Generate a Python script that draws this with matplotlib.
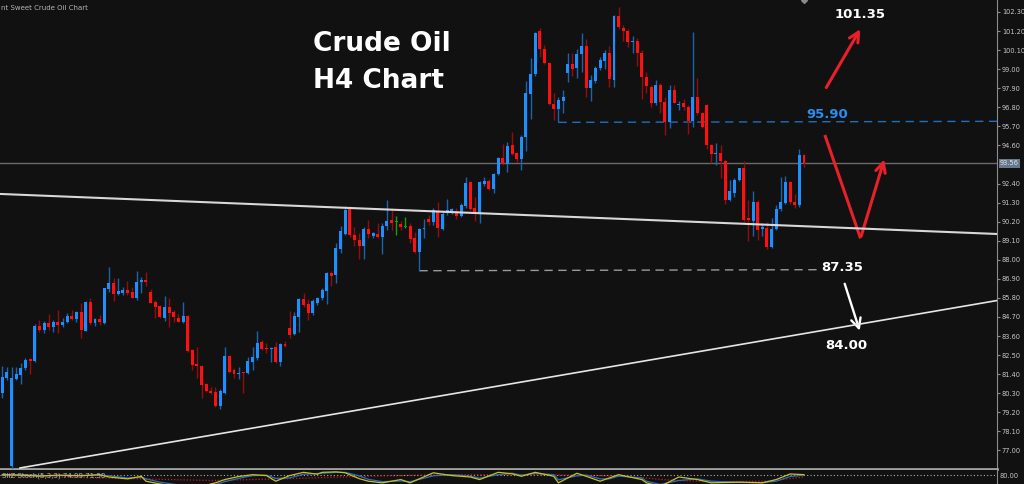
import matplotlib.pyplot as plt
import numpy as np

# H4 bars, oldest first
opens = [80.30, 81.16, 76.10, 81.12, 81.35, 81.74, 82.26, 82.16, 84.18, 83.95,
         84.37, 84.14, 84.43, 84.24, 84.43, 84.76, 84.58, 84.97, 83.91, 85.58,
         84.33, 84.56, 84.37, 86.30, 86.64, 86.03, 86.10, 86.26, 86.16, 85.82,
         86.74, 86.83, 86.16, 85.58, 85.33, 84.66, 85.30, 84.99, 84.66, 84.43,
         84.78, 82.80, 81.97, 81.89, 80.83, 80.45, 80.39, 79.59, 80.33, 82.47,
         81.64, 81.43, 81.49, 81.45, 82.12, 82.31, 83.24, 82.93, 82.87, 82.95,
         82.08, 83.16, 84.05, 83.70, 84.72, 85.74, 85.45, 84.91, 85.53, 85.78,
         86.22, 87.22, 87.12, 88.60, 89.49, 90.97, 89.43, 89.14, 88.80, 89.76,
         89.39, 89.49, 89.30, 89.95, 90.30, 90.19, 90.07, 89.90, 89.95, 89.26,
         88.45, 89.76, 90.37, 90.18, 90.82, 89.76, 90.72, 90.76, 90.84, 90.53,
         91.10, 92.51, 90.97, 90.72, 92.37, 92.57, 92.09, 92.95, 93.89, 93.53,
         94.63, 94.14, 93.82, 95.11, 97.57, 98.72, 101.20, 100.16, 99.37, 96.99,
         96.68, 97.18, 98.76, 99.28, 99.05, 99.86, 100.34, 97.89, 98.34, 99.05,
         99.49, 99.95, 98.37, 102.07, 101.37, 101.20, 100.59, 100.64, 99.95, 98.57,
         97.95, 97.07, 98.09, 97.12, 95.97, 97.80, 96.91, 97.03, 96.80, 96.03,
         97.37, 96.45, 96.93, 94.63, 94.11, 94.18, 93.72, 91.45, 91.84, 92.61,
         93.28, 90.39, 90.26, 91.36, 89.76, 89.84, 88.72, 89.76, 90.91, 91.26,
         92.51, 91.36, 91.18, 94.05]
highs = [81.87, 81.83, 81.83, 81.80, 82.03, 82.31, 82.31, 84.30, 84.53, 84.49,
         84.87, 84.53, 85.10, 84.62, 84.91, 85.10, 85.05, 85.49, 85.64, 85.78,
         84.62, 84.82, 86.39, 87.60, 86.93, 86.93, 86.41, 86.80, 86.41, 87.37,
         86.99, 87.31, 86.30, 85.68, 85.39, 85.91, 85.78, 85.10, 84.87, 85.55,
         84.82, 82.83, 82.95, 81.93, 80.91, 80.64, 80.64, 80.53, 82.95, 82.51,
         81.74, 81.83, 81.52, 82.41, 82.99, 83.89, 83.37, 83.18, 82.99, 83.24,
         83.18, 83.31, 85.05, 85.01, 85.78, 86.07, 85.72, 85.72, 85.87, 86.35,
         87.31, 87.37, 88.95, 89.95, 91.10, 91.10, 89.91, 89.53, 89.87, 90.30,
         89.62, 90.14, 90.10, 91.45, 90.97, 90.53, 90.24, 90.45, 90.14, 89.62,
         89.82, 90.34, 90.59, 90.97, 91.34, 90.84, 91.52, 90.97, 90.97, 91.26,
         92.76, 92.57, 91.64, 92.57, 92.76, 92.64, 93.03, 93.95, 94.68, 94.82,
         95.39, 94.24, 95.20, 98.32, 99.66, 101.16, 101.36, 100.39, 99.43, 97.60,
         97.41, 97.80, 99.95, 99.95, 100.14, 101.07, 100.72, 98.66, 99.18, 99.68,
         100.11, 100.34, 102.12, 102.57, 101.55, 101.30, 100.91, 100.78, 100.11, 98.86,
         98.09, 98.37, 98.18, 97.41, 98.09, 98.09, 97.18, 97.26, 96.93, 101.16,
         98.51, 96.55, 96.99, 94.68, 94.76, 94.63, 93.76, 92.61, 92.70, 93.32,
         93.72, 91.45, 91.99, 91.45, 90.11, 90.20, 90.39, 91.16, 92.80, 92.84,
         92.57, 91.80, 94.37, 94.11]
lows = [80.05, 81.07, 75.95, 81.07, 80.83, 81.64, 81.41, 82.12, 83.85, 83.79,
        83.95, 83.85, 83.76, 84.14, 84.37, 84.53, 84.43, 83.47, 83.89, 84.24,
        84.18, 84.24, 84.30, 86.16, 85.64, 85.97, 85.97, 85.97, 85.78, 85.68,
        86.07, 86.51, 85.49, 84.62, 84.62, 84.49, 84.10, 84.43, 84.40, 84.37,
        82.70, 81.64, 81.16, 80.01, 80.39, 80.26, 79.53, 79.37, 80.26, 81.49,
        81.16, 81.10, 80.33, 81.43, 81.64, 82.22, 82.80, 82.60, 82.12, 82.03,
        81.87, 82.99, 83.47, 83.66, 83.85, 85.30, 84.53, 84.82, 85.39, 85.68,
        85.45, 86.51, 86.64, 88.37, 89.43, 89.34, 88.80, 88.03, 88.03, 89.24,
        89.24, 89.24, 88.34, 89.72, 89.72, 89.43, 89.72, 89.82, 88.95, 88.37,
        87.37, 89.24, 90.01, 90.01, 89.34, 89.72, 90.59, 90.64, 90.34, 90.45,
        90.97, 90.87, 90.26, 90.14, 92.26, 92.03, 91.87, 92.89, 93.47, 93.09,
        94.05, 93.66, 93.18, 94.30, 96.12, 98.60, 99.72, 99.30, 96.93, 96.07,
        95.93, 96.45, 98.28, 98.60, 98.47, 98.86, 97.41, 97.18, 98.22, 98.95,
        98.99, 97.95, 97.99, 101.30, 100.64, 100.26, 99.95, 99.18, 97.26, 97.64,
        96.84, 96.93, 96.45, 95.20, 95.59, 97.03, 96.64, 96.64, 95.26, 95.64,
        96.36, 95.59, 94.37, 93.57, 93.47, 92.70, 91.22, 91.41, 91.64, 92.57,
        90.20, 89.11, 89.38, 89.15, 89.38, 88.61, 88.66, 89.72, 90.84, 91.22,
        91.22, 90.97, 91.03, 93.38]
closes = [81.26, 81.53, 81.16, 81.41, 81.74, 82.22, 82.18, 84.18, 83.95, 84.33,
          84.10, 84.43, 84.24, 84.43, 84.76, 84.58, 84.99, 83.95, 85.58, 84.37,
          84.56, 84.41, 86.35, 86.64, 86.03, 86.22, 86.26, 86.10, 85.82, 86.74,
          86.83, 86.74, 85.53, 85.30, 84.68, 85.30, 84.95, 84.72, 84.43, 84.78,
          82.76, 81.93, 81.87, 80.78, 80.43, 80.33, 79.57, 80.45, 82.47, 81.55,
          81.41, 81.49, 81.45, 82.18, 82.37, 83.18, 82.83, 82.87, 82.93, 82.08,
          83.12, 83.03, 83.66, 84.76, 85.74, 85.39, 84.91, 85.64, 85.82, 86.26,
          87.22, 87.08, 88.66, 89.68, 90.87, 89.43, 89.14, 88.80, 89.76, 89.49,
          89.53, 89.30, 89.95, 90.24, 90.10, 90.19, 89.87, 89.90, 89.22, 88.45,
          89.78, 89.84, 90.18, 90.87, 89.82, 90.64, 90.87, 90.91, 90.53, 91.16,
          92.45, 90.91, 90.72, 92.51, 92.57, 92.09, 92.95, 93.89, 93.53, 94.59,
          94.11, 93.82, 95.11, 97.64, 98.72, 101.11, 100.16, 99.37, 96.99, 96.68,
          97.22, 97.41, 99.28, 99.01, 99.86, 100.34, 97.93, 98.37, 99.05, 99.53,
          99.95, 98.41, 102.07, 101.45, 101.20, 100.59, 100.64, 99.95, 98.57, 98.03,
          97.07, 98.09, 97.12, 95.97, 97.80, 97.07, 96.99, 96.80, 96.03, 97.37,
          96.45, 95.64, 94.63, 94.11, 94.18, 93.72, 91.45, 91.99, 92.61, 93.28,
          90.30, 90.30, 91.36, 89.72, 89.88, 88.72, 89.76, 90.91, 91.36, 92.51,
          91.36, 91.18, 94.05, 93.57]

price_ticks = [77.00, 78.10, 79.20, 80.30, 81.40, 82.50, 83.60, 84.70, 85.80, 86.90,
               88.00, 89.10, 90.20, 91.30, 92.40, 94.60, 95.70, 96.80, 97.90, 99.00,
               100.10, 101.20, 102.30]
last_price = 93.56

# trend lines (bar index, price)
down_trend_bars = [-0.5, 214.65]
down_trend_prices = [91.80, 89.49]
up_trend_bars = [3.82, 214.65]
up_trend_prices = [75.99, 85.65]
resist_bars = [120, 214.65]
resist_prices = [95.93, 95.99]
support_bars = [90, 176]
support_prices = [87.37, 87.43]

# stochastic sub-window
stoch_bars = [0, 4, 8, 12, 17, 21, 23, 27, 30, 31, 34, 38, 43, 46, 48, 51, 54, 57, 59, 62,
              65, 68, 69, 72, 74, 77, 79, 82, 86, 88, 93, 97, 101, 103, 107, 110, 112, 115,
              119, 120, 124, 126, 129, 131, 133, 138, 139, 142, 146, 150, 153, 159, 164,
              167, 170, 173]
stoch_main = [80, 78, 74, 78, 75, 80, 70, 62, 73, 52, 40, 30, 30, 45, 59, 72, 80, 76, 52, 76,
              90, 82, 90, 92, 88, 63, 52, 45, 59, 45, 88, 76, 70, 59, 90, 84, 73, 90,
              73, 45, 86, 73, 52, 66, 80, 59, 45, 30, 70, 59, 45, 48, 45,
              59, 83, 80]
stoch_signal = [78, 79, 76, 76, 77, 78, 75, 66, 68, 62, 48, 36, 30, 38, 50, 64, 76, 78, 64, 66,
                82, 85, 86, 90, 90, 75, 60, 50, 53, 50, 75, 80, 73, 65, 80, 86, 78, 85,
                80, 58, 75, 78, 62, 62, 74, 66, 52, 38, 55, 62, 52, 47, 46,
                52, 72, 78]
slow_bars = [0, 30, 45, 60, 80, 95, 110, 125, 135, 145, 155, 165, 173]
slow_vals = [75, 62, 55, 62, 74, 80, 80, 78, 72, 55, 50, 52, 70]

BG = '#111111'
BLUE = '#1e8fff'
RED = '#ff1010'
ARROW_RED = '#e8202a'
XMAX = 214.65

fig = plt.figure(figsize=(10.24, 4.84), dpi=100, facecolor=BG)
ax = fig.add_axes([0, 15 / 484, 997 / 1024, 469 / 484])
ax.set_facecolor(BG)

o = np.array(opens)
h = np.array(highs)
l = np.array(lows)
c = np.array(closes)
x = np.arange(len(o))

body_col = np.where(c > o, BLUE, np.where(c < o, RED, '#12a012'))
wick_col = np.where(c > o, '#1b63ad', np.where(c < o, '#960c0c', '#12a012'))
ax.vlines(x, l, h, colors=wick_col, lw=1, zorder=3)
ax.bar(x, np.maximum(np.abs(c - o), 0.05), bottom=np.minimum(o, c), width=0.64,
       color=body_col, linewidth=0, zorder=4)

# lines
ax.axhline(last_price, color='#6a6a6a', lw=1, zorder=2)
ax.plot(down_trend_bars, down_trend_prices, color='#d8d8d8', lw=1.5, zorder=5)
ax.plot(up_trend_bars, up_trend_prices, color='#e6e6e6', lw=1.2, zorder=5)
ax.plot(resist_bars, resist_prices, color='#1f6fbf', lw=1, dashes=(6, 4), zorder=2)
ax.plot(support_bars, support_prices, color='#9a9a9a', lw=1, dashes=(6, 4), zorder=2)

# projected moves
head = '->,head_length=0.7,head_width=0.35'
ax.annotate('', xy=(185.45, 101.45), xytext=(177.5, 97.80),
            arrowprops=dict(arrowstyle=head, color=ARROW_RED, lw=2.2))
ax.plot([177.5, 185.2], [95.20, 89.24], color=ARROW_RED, lw=2.2, solid_capstyle='butt')
ax.annotate('', xy=(190.5, 93.95), xytext=(185.2, 89.24),
            arrowprops=dict(arrowstyle=head, color=ARROW_RED, lw=2.2))
ax.annotate('', xy=(185.2, 83.76), xytext=(181.6, 86.77),
            arrowprops=dict(arrowstyle=head, color='white', lw=1.7))

lab = dict(fontsize=9.5, fontweight='bold', ha='center', va='baseline')
ax.text(185.2, 101.93, '101.35', color='white', **lab)
ax.text(178.1, 96.16, '95.90', color='#2a8df0', **lab)
ax.text(181.2, 87.37, '87.35', color='white', **lab)
ax.text(182.1, 82.85, '84.00', color='white', **lab)

fig.text(313 / 1024, 1 - 51 / 484, 'Crude Oil', color='white', fontsize=19,
         fontweight='bold', va='baseline')
fig.text(313 / 1024, 1 - 87.5 / 484, 'H4 Chart', color='white', fontsize=19,
         fontweight='bold', va='baseline')
fig.text(1 / 1024, 1 - 8 / 484, 'nt Sweet Crude Oil Chart', color='#b4b4b4',
         fontsize=5, va='center')

ax.set_xlim(-0.5, XMAX)
ax.set_ylim(75.93, 102.99)
ax.set_xticks([])
ax.yaxis.tick_right()
ax.set_yticks(price_ticks)
ax.set_yticklabels(['%.2f' % v for v in price_ticks])
ax.tick_params(axis='y', labelsize=4.8, labelcolor='#c8c8c8', color='#8c8c8c',
               length=2.5, width=0.8, pad=1)
for side in ['top', 'left']:
    ax.spines[side].set_visible(False)
ax.spines['right'].set_color('#8c8c8c')
ax.spines['bottom'].set_color('#a0a0a0')
ax.spines['bottom'].set_linewidth(2)
ax.text(1.003, last_price, '93.56', transform=ax.get_yaxis_transform(), fontsize=4.8,
        color='#e0e6ee', va='center', ha='left',
        bbox=dict(boxstyle='square,pad=0.2', fc='#66788a', ec='none'))
ax.plot([173], [102.99], marker='D', ms=3, color='#8a8a8a', clip_on=False)

# stochastic panel
ax2 = fig.add_axes([0, 0, 997 / 1024, 14 / 484])
ax2.set_facecolor(BG)
ax2.set_xlim(-0.5, XMAX)
ax2.set_ylim(40, 100)
ax2.axhline(80, color='#b0b0b0', lw=0.8, ls=(0, (1, 2)))
ax2.plot(slow_bars, slow_vals, color='#d01818', lw=0.9, ls=(0, (1, 1.5)))
ax2.plot(stoch_bars, stoch_signal, color='#2a6fc0', lw=0.9)
ax2.plot(stoch_bars, stoch_main, color='#c8c020', lw=0.9)
ax2.text(0.002, 0.62, 'SliZ Stoch(5,3,3) 74.99 71.58', transform=ax2.transAxes,
         fontsize=5, color='#b4b4b4', va='center')
ax2.text(1.003, 0.6, '80.00', transform=ax2.transAxes, fontsize=4.8,
         color='#c8c8c8', va='center')
ax2.set_xticks([])
ax2.set_yticks([])
for side in ['top', 'left', 'bottom']:
    ax2.spines[side].set_visible(False)
ax2.spines['right'].set_color('#8c8c8c')

fig.savefig('out.png', dpi=100, facecolor=BG)
